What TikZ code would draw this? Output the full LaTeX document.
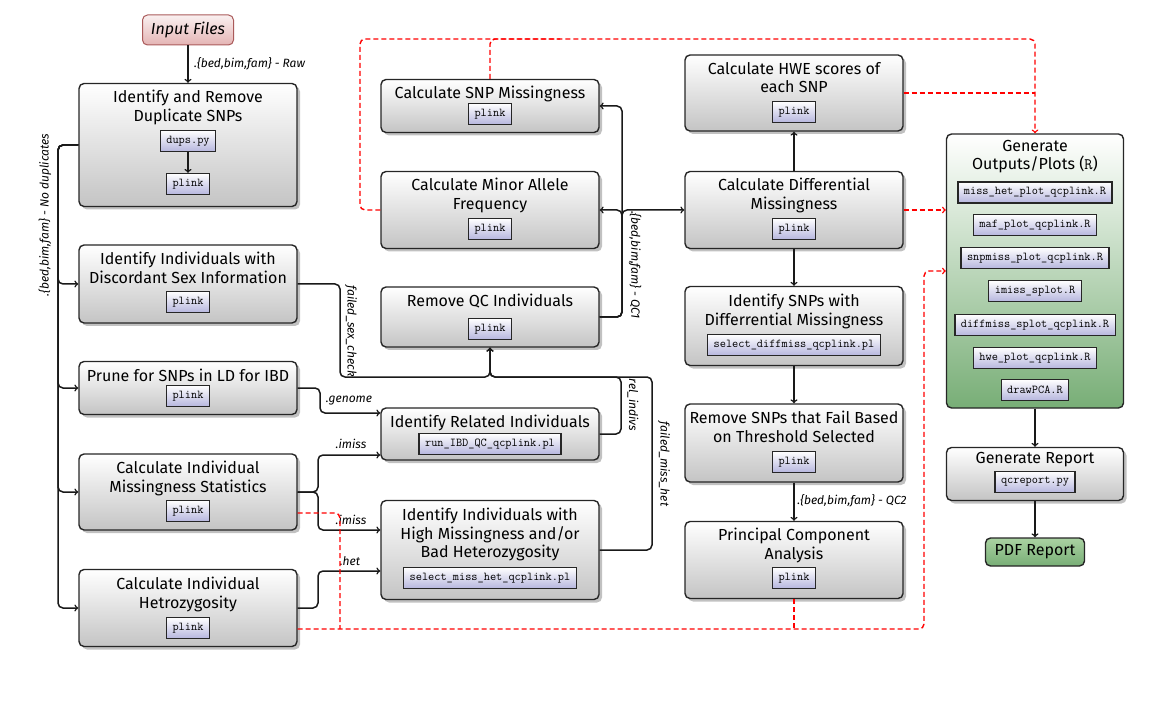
\documentclass[tikz,border=0pt]{standalone}
\usepackage{fontspec}
\setmainfont{Fira Sans}
\usetikzlibrary{shadows}
\definecolor{boxgray}{RGB}{196,196,196}
\definecolor{codeblue}{RGB}{182,182,222}
\definecolor{plotgreen}{RGB}{120,174,118}
\definecolor{pdfgreen}{RGB}{170,210,162}
\definecolor{inputred}{RGB}{228,180,180}
\definecolor{inputedge}{RGB}{170,90,90}
\tikzstyle{stepbox}=[
        draw=black!85, line width=1.4pt, rounded corners=5pt,
        top color=white, bottom color=boxgray,
        drop shadow={shadow xshift=3pt, shadow yshift=-3pt, fill=black!30, opacity=0.8},
        minimum width=218pt
]
\tikzstyle{title}=[anchor=north, align=center, inner sep=0pt, font=\fontsize{16}{18.5}\selectfont]
\tikzstyle{code}=[
        draw=black!85, line width=1.3pt, top color=white, bottom color=codeblue,
        inner xsep=6pt, minimum height=21pt, font=\ttfamily\fontsize{12}{14}\selectfont
]
\tikzstyle{inputbox}=[
        draw=inputedge, line width=1pt, rounded corners=5pt,
        top color=inputred!20, bottom color=inputred,
        minimum width=91pt, minimum height=30pt, font=\itshape\fontsize{16}{18}\selectfont
]
\tikzstyle{flowlabel}=[inner sep=1pt, font=\itshape\fontsize{12}{14}\selectfont]
\tikzstyle{flow}=[draw=black!90, line width=1.5pt, rounded corners=5pt, ->]
\tikzstyle{outflow}=[draw=red, line width=1.4pt, rounded corners=5pt, dash pattern=on 5pt off 3pt]
\begin{document}
\begin{tikzpicture}[x=1pt,y=-1pt]
                    \useasboundingbox (0,0) rectangle (1156,708);

                    % left column
                    \node[inputbox] (input) at (188,30) {Input Files};

                    \node[stepbox, minimum height=123pt] (dups) at (188,145) {};
                    \node[title] (dupstitle) at (188,90) {Identify and Remove\\Duplicate SNPs};
                    \node[code] (dupspy) at (188,141) {dups.py};
                    \node[code] (dupsplink) at (188,184) {plink};

                    \node[stepbox, minimum height=78pt] (sex) at (188,284) {};
                    \node[title] (sextitle) at (188,252) {Identify Individuals with\\Discordant Sex Information};
                    \node[code] (sexplink) at (188,302) {plink};

                    \node[stepbox, minimum height=53pt] (prune) at (188,388) {};
                    \node[title] (prunetitle) at (188,369) {Prune for SNPs in LD for IBD};
                    \node[code] (pruneplink) at (188,396) {plink};

                    \node[stepbox, minimum height=76pt] (imiss) at (188,492) {};
                    \node[title] (imisstitle) at (188,461) {Calculate Individual\\Missingness Statistics};
                    \node[code] (imissplink) at (188,511) {plink};

                    \node[stepbox, minimum height=77pt] (het) at (188,608) {};
                    \node[title] (hettitle) at (188,577) {Calculate Individual\\Hetrozygosity};
                    \node[code] (hetplink) at (188,628) {plink};

                    % middle column
                    \node[stepbox, minimum height=53pt] (snpmiss) at (490,106) {};
                    \node[title] (snpmisstitle) at (490,86) {Calculate SNP Missingness};
                    \node[code] (snpmissplink) at (490,114) {plink};

                    \node[stepbox, minimum height=77pt] (maf) at (490,210) {};
                    \node[title] (maftitle) at (490,178) {Calculate Minor Allele\\Frequency};
                    \node[code] (mafplink) at (490,229) {plink};

                    \node[stepbox, minimum height=60pt] (rmqc) at (490,317) {};
                    \node[title] (rmqctitle) at (490,294) {Remove QC Individuals};
                    \node[code] (rmqcplink) at (490,329) {plink};

                    \node[stepbox, minimum height=52pt] (related) at (490,434) {};
                    \node[title] (relatedtitle) at (490,415) {Identify Related Individuals};
                    \node[code] (relatedpl) at (490,444) {run\_IBD\_QC\_qcplink.pl};

                    \node[stepbox, minimum height=99pt] (misshet) at (490,550) {};
                    \node[title] (misshettitle) at (490,508) {Identify Individuals with\\High Missingness and/or\\Bad Heterozygosity};
                    \node[code] (misshetpl) at (490,578) {select\_miss\_het\_qcplink.pl};

                    % right column
                    \node[stepbox, minimum height=76pt] (hwe) at (794,93) {};
                    \node[title] (hwetitle) at (794,62) {Calculate HWE scores of\\each SNP};
                    \node[code] (hweplink) at (794,112) {plink};

                    \node[stepbox, minimum height=77pt] (diff) at (794,210) {};
                    \node[title] (difftitle) at (794,178) {Calculate Differential\\Missingness};
                    \node[code] (diffplink) at (794,229) {plink};

                    \node[stepbox, minimum height=79pt] (idsnp) at (794,326) {};
                    \node[title] (idsnptitle) at (794,294) {Identify SNPs with\\Differrential Missingness};
                    \node[code] (idsnppl) at (794,345) {select\_diffmiss\_qcplink.pl};

                    \node[stepbox, minimum height=78pt] (rmsnp) at (794,443) {};
                    \node[title] (rmsnptitle) at (794,411) {Remove SNPs that Fail Based\\on Threshold Selected};
                    \node[code] (rmsnpplink) at (794,462) {plink};

                    \node[stepbox, minimum height=77pt] (pca) at (794,560) {};
                    \node[title] (pcatitle) at (794,528) {Principal Component\\Analysis};
                    \node[code] (pcaplink) at (794,578) {plink};

                    % outputs
                    \node[draw=black!85, line width=1.4pt, rounded corners=5pt, top color=white, bottom color=plotgreen,
                          minimum width=177pt, minimum height=274pt] (outputs) at (1035,271) {};
                    \node[title] (outputstitle) at (1035,140) {Generate\\Outputs/Plots (\texttt{R})};
                    \node[code] (plotmisshet) at (1035,192.5) {miss\_het\_plot\_qcplink.R};
                    \node[code] (plotmaf) at (1035,225) {maf\_plot\_qcplink.R};
                    \node[code] (plotsnpmiss) at (1035,258) {snpmiss\_plot\_qcplink.R};
                    \node[code] (plotimiss) at (1035,291) {imiss\_splot.R};
                    \node[code] (plotdiffmiss) at (1035,325) {diffmiss\_splot\_qcplink.R};
                    \node[code] (plothwe) at (1035,358) {hwe\_plot\_qcplink.R};
                    \node[code] (plotpca) at (1035,390) {drawPCA.R};

                    \node[stepbox, minimum width=177pt, minimum height=53pt] (report) at (1035,474) {};
                    \node[title] (reporttitle) at (1035,452) {Generate Report};
                    \node[code] (reportpy) at (1035,482) {qcreport.py};

                    \node[draw=black!85, line width=1.4pt, rounded corners=5pt, top color=pdfgreen, bottom color=plotgreen,
                          minimum width=99pt, minimum height=28pt, font=\fontsize{16}{18}\selectfont] (pdf) at (1035,552) {PDF Report};

                    % data flow
                    \draw[flow] (input) -- (dups);
                    \node[flowlabel, anchor=west] (rawlabel) at (193,64) {.\{bed,bim,fam\} - Raw};
                    \draw[flow] (dupspy) -- (dupsplink);

                    \coordinate (bus) at (58,145);
                    \foreach \b in {sex,prune,imiss,het} {
                        \draw[flow] (dups.west) -- (bus) |- (\b.west);
                    }
                    \node[flowlabel, rotate=90] (buslabel) at (45,215) {.\{bed,bim,fam\} - No duplicates};

                    \draw[flow] (prune.east) -| (320,413) -- ([yshift=21pt]related.west);
                    \node[flowlabel] (genomelabel) at (349,401) {.genome};
                    \draw[flow] (imiss.east) -| (318,455) -- ([yshift=-21pt]related.west);
                    \node[flowlabel] (imisslabel) at (351,444) {.imiss};
                    \draw[flow] (imiss.east) -| (318,530) -- ([yshift=20pt]misshet.west);
                    \node[flowlabel] (imisslabelb) at (351,520) {.imiss};
                    \draw[flow] (het.east) -| (318,571) -- ([yshift=-21pt]misshet.west);
                    \node[flowlabel] (hetlabel) at (350,561) {.het};

                    \coordinate (qcjoin) at (490,377);
                    \draw[flow] (sex.east) -| (340,377) -- (qcjoin) -- (rmqc.south);
                    \draw[flow] (related.east) -| (621,377) -- (qcjoin) -- (rmqc.south);
                    \draw[flow] (misshet.east) -| (652,377) -- (qcjoin) -- (rmqc.south);
                    \node[flowlabel, rotate=-90] (sexlabel) at (351,331) {failed\_sex\_check};
                    \node[flowlabel, rotate=-90] (rellabel) at (633,405) {rel\_indivs};
                    \node[flowlabel, rotate=-90] (misshetlabel) at (664,464) {failed\_miss\_het};

                    \coordinate (qc1) at (622,210);
                    \draw[flow] (rmqc.east) -| (qc1) |- (snpmiss.east);
                    \draw[flow] (rmqc.east) -| (qc1) -- (maf.east);
                    \draw[flow] (rmqc.east) -| (qc1) -- (diff.west);
                    \node[flowlabel, rotate=-90] (qc1label) at (635,265) {.\{bed,bim,fam\} - QC1};

                    \draw[flow] (diff.north) -- (hwe.south);
                    \draw[flow] (diff.south) -- (idsnp.north);
                    \draw[flow] (idsnp.south) -- (rmsnp.north);
                    \draw[flow] (rmsnp.south) -- (pca.north);
                    \node[flowlabel] (qc2label) at (852,501) {.\{bed,bim,fam\} - QC2};

                    \draw[flow] (outputs.south) -- (report.north);
                    \draw[flow] (report.south) -- (pdf.north);

                    % results to plots
                    \draw[outflow, ->] (maf.west) -| (360,39) -| (outputs.north);
                    \draw[outflow] (snpmiss.north) |- (560,39);
                    \draw[outflow] (hwe.east) -- (hwe.east -| outputs.north);
                    \draw[outflow, ->] (diff.east) -- (diff.east -| outputs.west);
                    \draw[outflow, ->] ([yshift=-21pt]het.east) -| (924,271) -- (outputs.west);
                    \draw[outflow] ([yshift=-21pt]imiss.east) -| (340,629);
                    \draw[outflow] (pca.south) -- (pca.south |- 0,629);
                \end{tikzpicture}
\end{document}
